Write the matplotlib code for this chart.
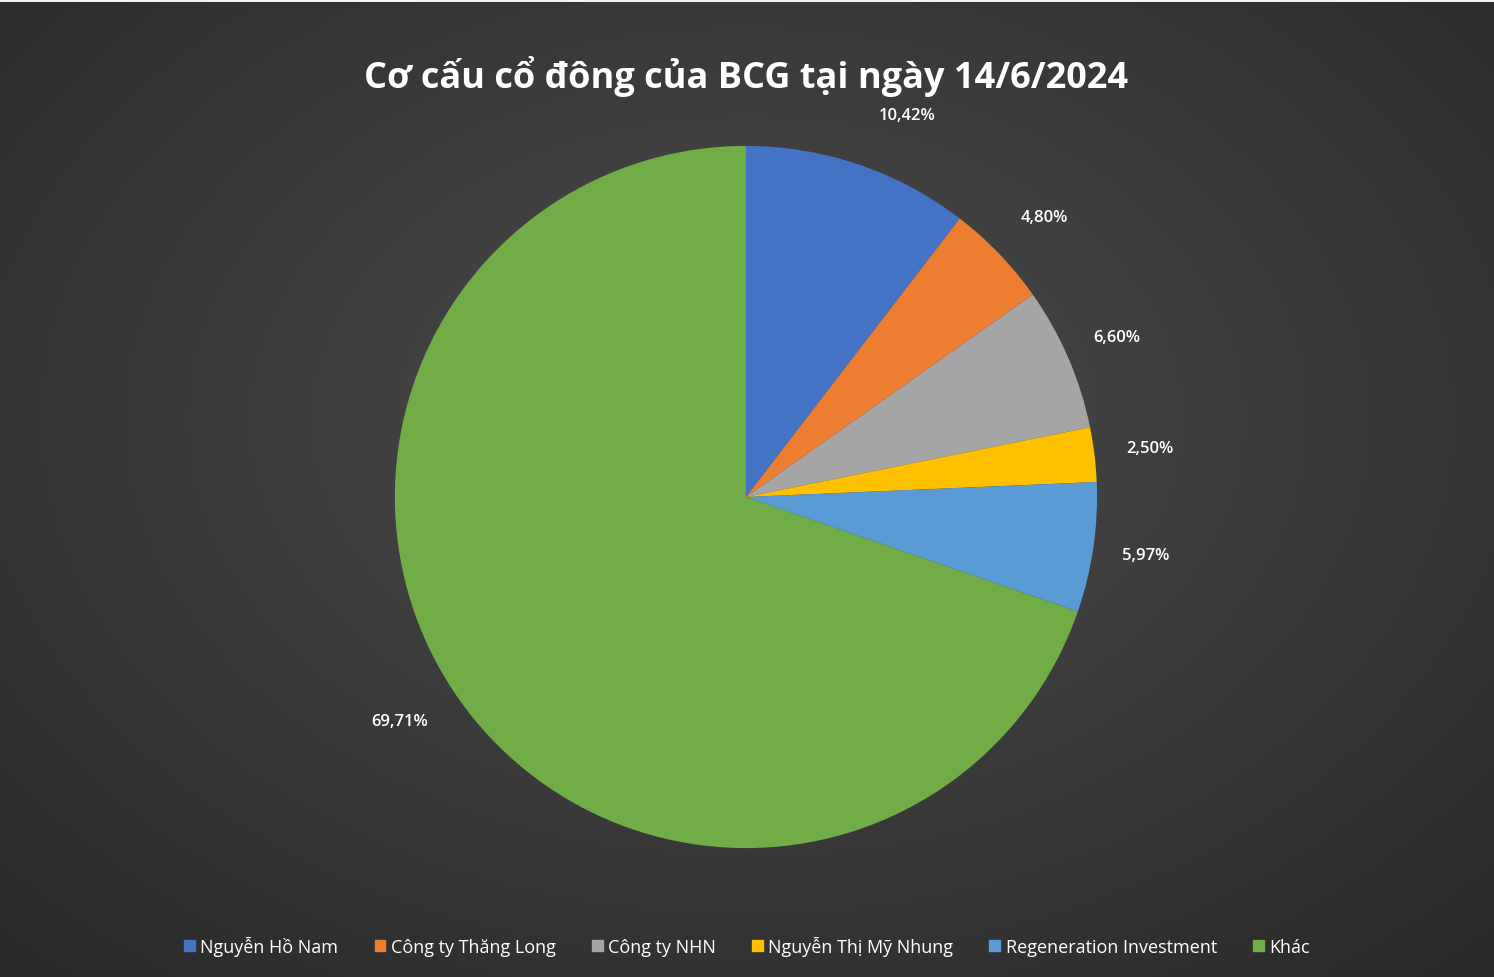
import matplotlib
matplotlib.use("Agg")
import matplotlib.pyplot as plt
import numpy as np
from matplotlib.patches import Rectangle

labels = ["Nguyễn Hồ Nam", "Công ty Thăng Long", "Công ty NHN", "Nguyễn Thị Mỹ Nhung", "Regeneration Investment", "Khác"]
values = [10.42, 4.80, 6.60, 2.50, 5.97, 69.71]
pct_labels = ["10,42%", "4,80%", "6,60%", "2,50%", "5,97%", "69,71%"]
colors = ["#4472C4", "#ED7D31", "#A5A5A5", "#FFC000", "#5B9BD5", "#70AD47"]
title = "Cơ cấu cổ đông của BCG tại ngày 14/6/2024"

plt.rcParams['font.family'] = ['Open Sans', 'DejaVu Sans']
fig = plt.figure(figsize=(14.94, 9.78), dpi=100)

bg = fig.add_axes([0, 0, 1, 1])
yy, xx = np.mgrid[0:978, 0:1494]
d = np.sqrt(((xx - 747) / 1000.0) ** 2 + ((yy - 420) / 700.0) ** 2)
v = np.clip(0.30 - 0.13 * d, 0.16, 0.30)
img = np.dstack([v, v, v])
img[0:3, :, :] = 0.95
bg.imshow(img, aspect='auto', extent=[0, 1, 0, 1], origin='upper')
bg.axis('off')

ax = fig.add_axes([0.4993 - 0.235, 0.4908 - 0.359, 0.47, 0.718])
wedges, _ = ax.pie(values, colors=colors, startangle=90, counterclock=False,
                   wedgeprops=dict(linewidth=0))
offsets = [(0.09, 0.0), (0.02, 0.0), (0.0, 0.0), (0.01, 0.0), (0.0, 0.0), (-0.05, 0.03)]
for w, lab, (ox, oy) in zip(wedges, pct_labels, offsets):
    mid = np.deg2rad((w.theta1 + w.theta2) / 2)
    r = 1.15
    ax.text(r * np.cos(mid) + ox, r * np.sin(mid) + oy, lab, color="white", fontsize=12,
            fontweight='semibold', ha='center', va='center')
ax.set_xlim(-1, 1); ax.set_ylim(-1, 1)
ax.set_aspect('equal')
ax.axis('off')

fig.text(0.4993, 0.922, title, color="white", fontsize=26, fontweight='bold',
         ha='center', va='center')

handles = [Rectangle((0, 0), 1, 1, color=c) for c in colors]
fig.legend(handles, labels, loc='center', bbox_to_anchor=(0.5, 0.032), ncol=6,
           frameon=False, fontsize=13, labelcolor='white', handlelength=0.6,
           handleheight=0.6, handletextpad=0.3, columnspacing=2.0)

fig.savefig("out.png", dpi=100)
